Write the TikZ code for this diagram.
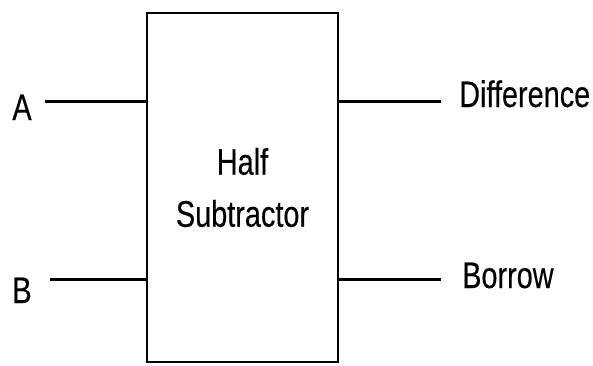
\documentclass[tikz,border=0pt]{standalone}
\usepackage{fontspec}
\setmainfont[FakeStretch=0.78,FakeBold=0.3]{Liberation Sans}
\begin{document}
\begin{tikzpicture}[x=1pt,y=1pt,
  lead/.style={line width=3pt},
  lbl/.style={inner sep=0pt,font=\fontsize{37}{52}\selectfont,text=black}]
\useasboundingbox (0,0) rectangle (593,365);
\node[draw,line width=2.8pt,minimum width=191pt,minimum height=349pt,inner sep=0pt,
  align=center,font=\fontsize{37}{52}\selectfont,text=black] (hs) at (242.5,177.5) {Half\\Subtractor};
\coordinate (a) at (45,264);
\coordinate (b) at (50,86);
\coordinate (d) at (441,264);
\coordinate (w) at (441,86);
\draw[lead] (a) -- (a -| hs.west);
\draw[lead] (b) -- (b -| hs.west);
\draw[lead] (d -| hs.east) -- (d);
\draw[lead] (w -| hs.east) -- (w);
\node[lbl,anchor=base] (la) at (22,245) {A};
\node[lbl,anchor=base] (lb) at (22,62) {B};
\node[lbl,anchor=base west] (ld) at (459,258) {Difference};
\node[lbl,anchor=base west] (lw) at (462,77) {Borrow};
\end{tikzpicture}
\end{document}
